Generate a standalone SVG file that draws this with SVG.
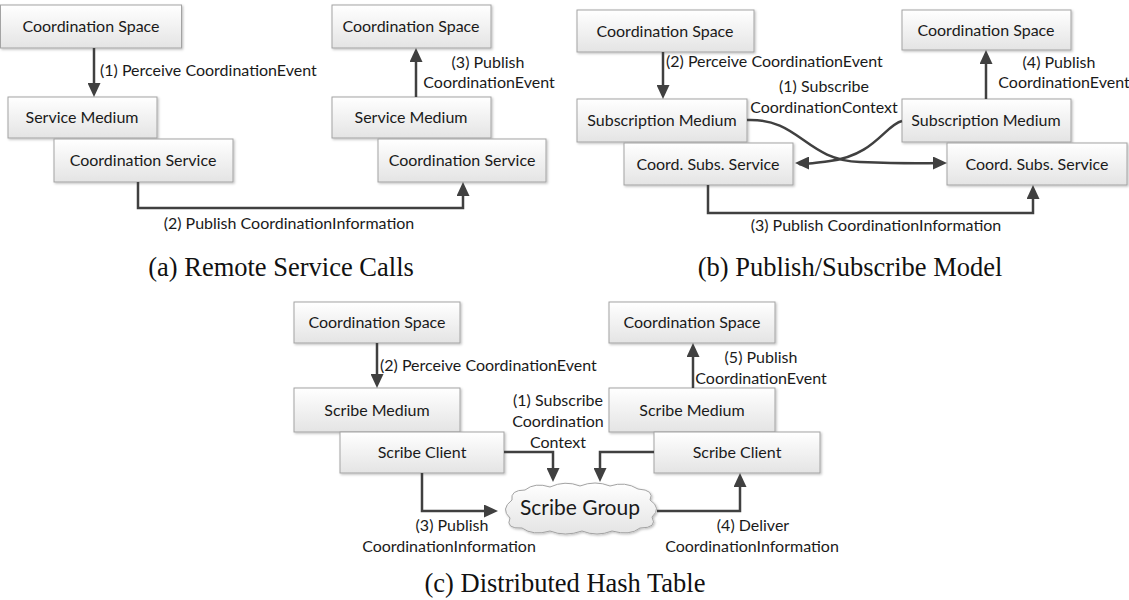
<svg xmlns="http://www.w3.org/2000/svg" width="1129" height="600" viewBox="0 0 1129 600">
<style>
.box{fill:url(#g);stroke:#a3a3a3;stroke-width:1;filter:url(#sh)}
.t{font-family:Lato,"Liberation Sans",sans-serif;font-size:16px;fill:#1a1a1a}
.m{text-anchor:middle}
.cap{font-family:"Liberation Serif","Times New Roman",serif;font-size:26.5px;fill:#111;text-anchor:middle}
.ln{fill:none;stroke:#404040;stroke-width:2.5;marker-end:url(#ah)}
</style>
<defs>
<linearGradient id="g" x1="0" y1="0" x2="0" y2="1"><stop offset="0" stop-color="#ffffff"/><stop offset="1" stop-color="#e4e4e4"/></linearGradient>
<filter id="sh" x="-5%" y="-10%" width="115%" height="130%"><feDropShadow dx="1.2" dy="1.2" stdDeviation="0.8" flood-color="#000" flood-opacity="0.25"/></filter>
<marker id="ah" markerUnits="userSpaceOnUse" viewBox="0 0 14 13" refX="10" refY="6.5" markerWidth="14" markerHeight="13" orient="auto"><path d="M0,0 L14,6.5 L0,13 Z" fill="#404040"/></marker>
</defs>
<rect width="1129" height="600" fill="#fff"/>

<!-- Panel a -->
<g id="a-cs1"><rect class="box" x="0.5" y="5" width="181" height="43"/><text class="t m" x="91" y="32">Coordination Space</text></g>
<g id="a-sm1"><rect class="box" x="8" y="97" width="149" height="41"/><text class="t m" x="82" y="123">Service Medium</text></g>
<g id="a-csv1"><rect class="box" x="54" y="139" width="179" height="43"/><text class="t m" x="143" y="166">Coordination Service</text></g>
<g id="a-cs2"><rect class="box" x="332" y="5" width="159" height="43"/><text class="t m" x="411" y="32">Coordination Space</text></g>
<g id="a-sm2"><rect class="box" x="332" y="97" width="159" height="41"/><text class="t m" x="411" y="123">Service Medium</text></g>
<g id="a-csv2"><rect class="box" x="378" y="139" width="168" height="43"/><text class="t m" x="462" y="166">Coordination Service</text></g>

<!-- Panel b -->
<g id="b-cs1"><rect class="box" x="577" y="10" width="177" height="42"/><text class="t m" x="665" y="36.5">Coordination Space</text></g>
<g id="b-sm1"><rect class="box" x="577" y="99" width="170" height="43"/><text class="t m" x="662" y="126">Subscription Medium</text></g>
<g id="b-css1"><rect class="box" x="624" y="143" width="169" height="42"/><text class="t m" x="708" y="169.5">Coord. Subs. Service</text></g>
<g id="b-cs2"><rect class="box" x="902" y="10" width="169" height="40"/><text class="t m" x="986" y="35.5">Coordination Space</text></g>
<g id="b-sm2"><rect class="box" x="902" y="99" width="169" height="43"/><text class="t m" x="986" y="126">Subscription Medium</text></g>
<g id="b-css2"><rect class="box" x="947" y="143" width="180" height="42"/><text class="t m" x="1037" y="169.5">Coord. Subs. Service</text></g>

<!-- Panel c -->
<g id="c-cs1"><rect class="box" x="294" y="302" width="166" height="41"/><text class="t m" x="377" y="328">Coordination Space</text></g>
<g id="c-sm1"><rect class="box" x="294" y="388" width="166" height="44"/><text class="t m" x="377" y="415.5">Scribe Medium</text></g>
<g id="c-sc1"><rect class="box" x="340" y="432" width="164" height="41"/><text class="t m" x="422" y="458">Scribe Client</text></g>
<g id="c-cs2"><rect class="box" x="609" y="302" width="166" height="41"/><text class="t m" x="692" y="328">Coordination Space</text></g>
<g id="c-sm2"><rect class="box" x="609" y="388" width="166" height="44"/><text class="t m" x="692" y="415.5">Scribe Medium</text></g>
<g id="c-sc2"><rect class="box" x="654" y="432" width="166" height="41"/><text class="t m" x="737" y="458">Scribe Client</text></g>
<g id="c-group">
<path d="M512,500 Q510,490 525,490 Q535,482 550,487 Q565,480 580,486 Q595,480 610,486 Q625,481 638,489 Q655,490 650,500 Q662,508 652,517 Q658,528 640,528 Q630,536 612,531 Q597,537 582,531 Q565,537 550,531 Q533,536 522,528 Q505,529 510,518 Q500,509 512,500 Z" fill="url(#g)" stroke="#a3a3a3" stroke-width="1" filter="url(#sh)"/>
<text class="t m" x="580" y="515" style="font-size:21px">Scribe Group</text>
</g>

<g id="connectors">
<path class="ln" d="M94,48 V93"/>
<path class="ln" d="M416,97 V52"/>
<path class="ln" d="M138,182 V208 H463 V186"/>
<path class="ln" d="M663,52 V95"/>
<path class="ln" d="M986,99 V54"/>
<path class="ln" d="M708,185 V213 H1033 V189"/>
<path class="ln" d="M747,120 C800,118 805,160 860,162 S920,163 943,163"/>
<path class="ln" d="M902,121 C885,125 875,155 830,161 S805,163 799,163"/>
<path class="ln" d="M377,343 V384"/>
<path class="ln" d="M693,388 V347"/>
<path class="ln" d="M504,452 H553 V478"/>
<path class="ln" d="M654,452 H600 V478"/>
<path class="ln" d="M422,473 V511 H494"/>
<path class="ln" d="M657,511 H740 V477"/>
</g>

<g id="labels">
<text class="t" x="100" y="76">(1) Perceive CoordinationEvent</text>
<text class="t m" x="488" y="68">(3) Publish</text>
<text class="t m" x="489" y="88">CoordinationEvent</text>
<text class="t m" x="289" y="229">(2) Publish CoordinationInformation</text>
<text class="t" x="666" y="67">(2) Perceive CoordinationEvent</text>
<text class="t m" x="824" y="92">(1) Subscribe</text>
<text class="t m" x="824" y="113">CoordinationContext</text>
<text class="t m" x="1059" y="68">(4) Publish</text>
<text class="t m" x="1064" y="88">CoordinationEvent</text>
<text class="t m" x="876" y="231">(3) Publish CoordinationInformation</text>
<text class="t" x="380" y="371">(2) Perceive CoordinationEvent</text>
<text class="t m" x="558" y="406">(1) Subscribe</text>
<text class="t m" x="558" y="427">Coordination</text>
<text class="t m" x="558" y="448">Context</text>
<text class="t m" x="761" y="363">(5) Publish</text>
<text class="t m" x="761" y="384">CoordinationEvent</text>
<text class="t m" x="452" y="531">(3) Publish</text>
<text class="t m" x="449" y="552">CoordinationInformation</text>
<text class="t m" x="753" y="531">(4) Deliver</text>
<text class="t m" x="752" y="552">CoordinationInformation</text>
</g>

<g id="captions">
<text class="cap" x="281" y="276">(a) Remote Service Calls</text>
<text class="cap" x="850" y="276">(b) Publish/Subscribe Model</text>
<text class="cap" x="565" y="592">(c) Distributed Hash Table</text>
</g>
</svg>
